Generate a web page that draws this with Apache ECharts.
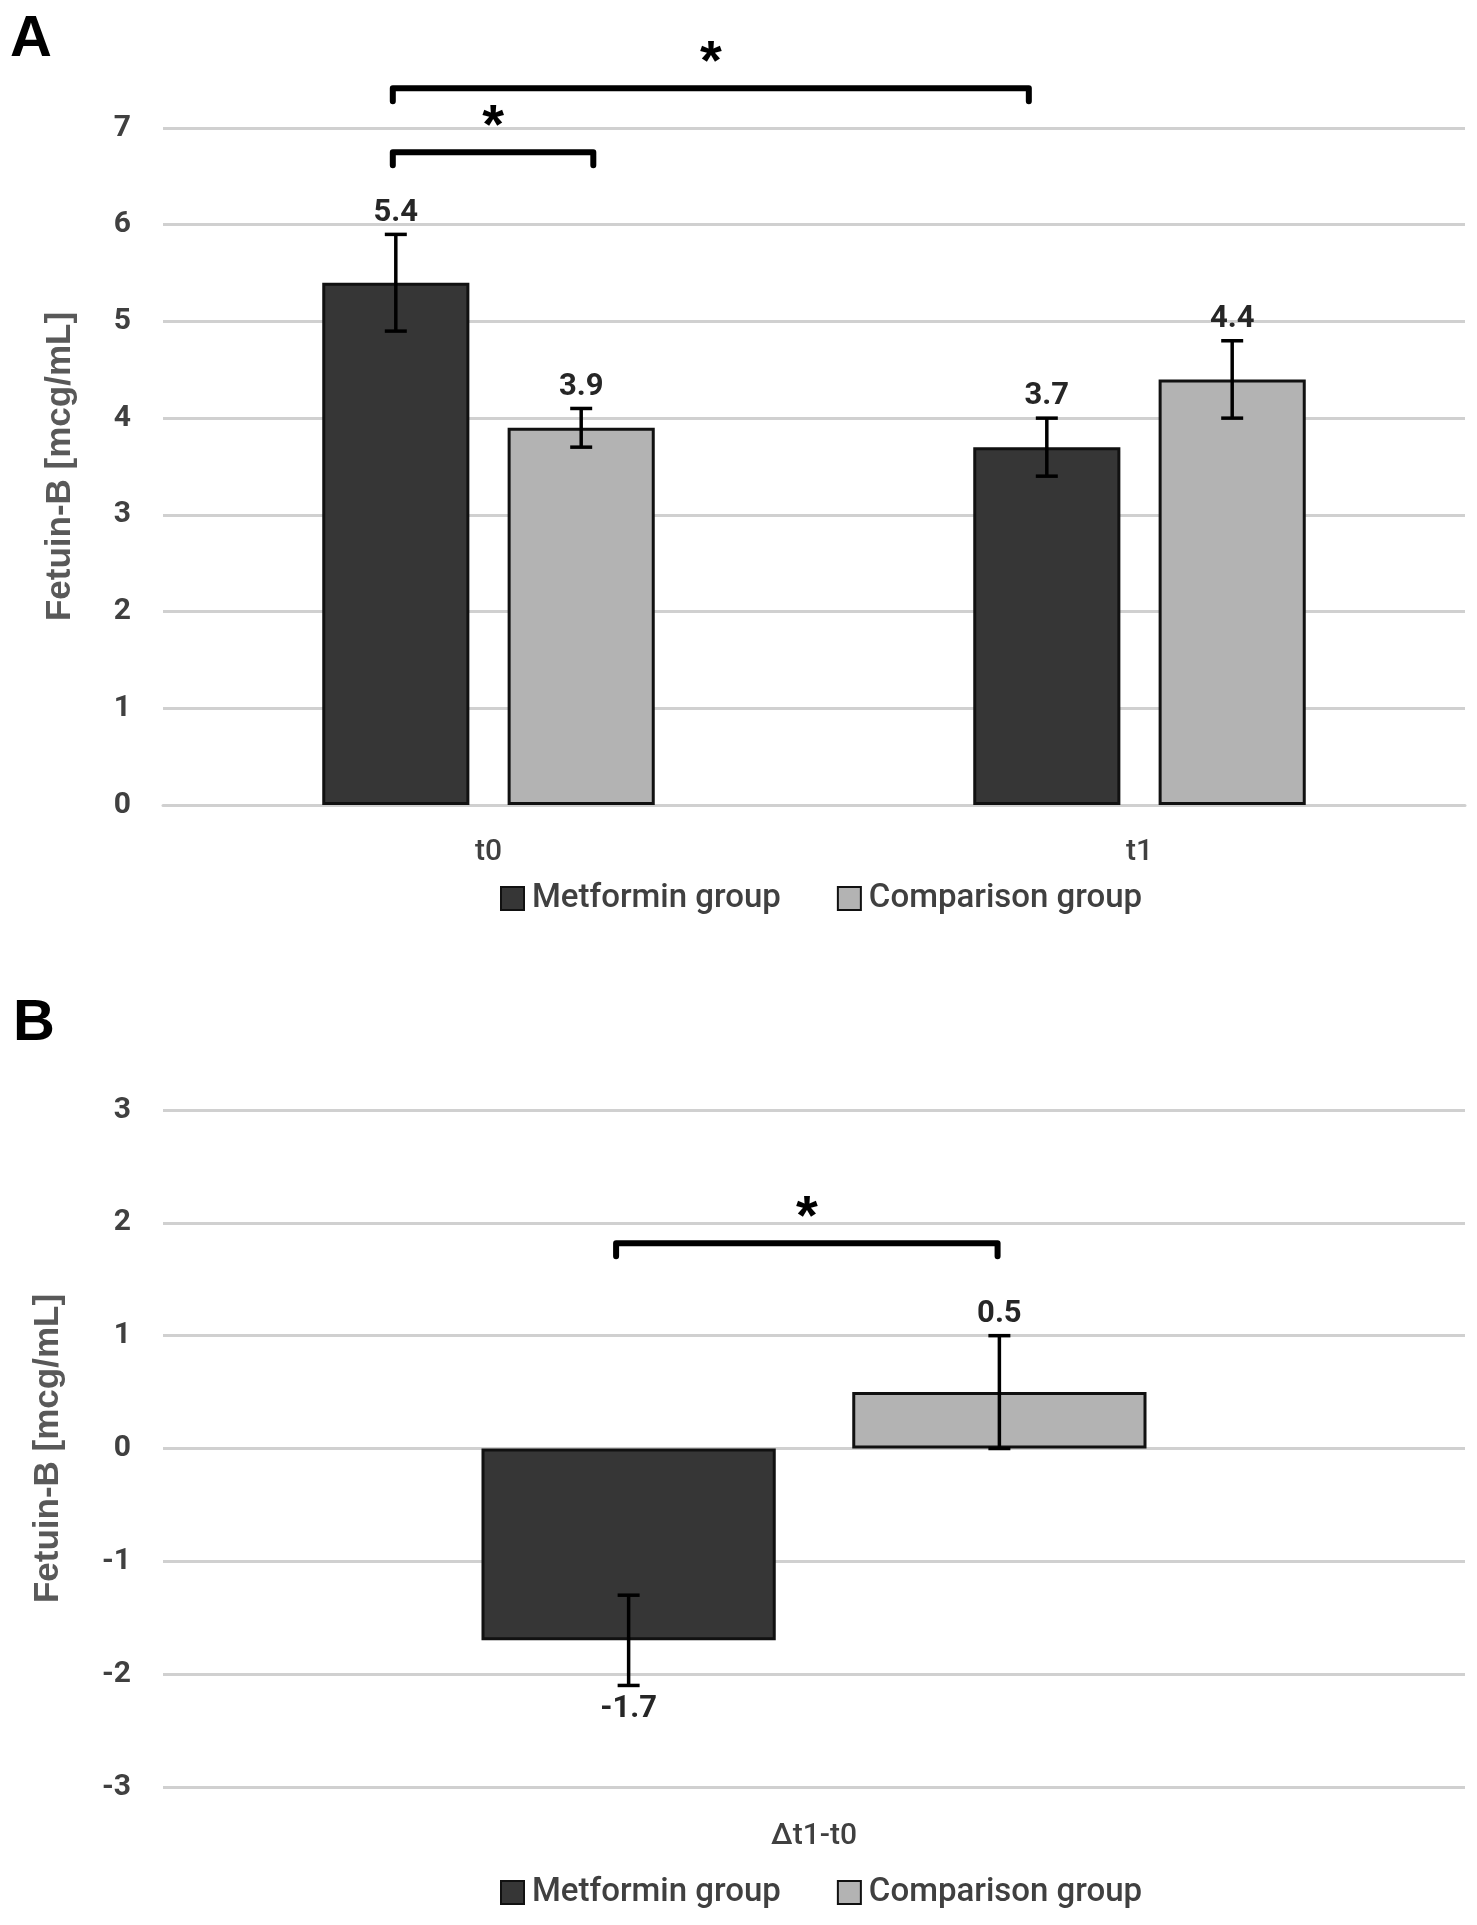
<!DOCTYPE html>
<html>
<head>
<meta charset="utf-8">
<title>Fetuin-B</title>
<script src="https://cdn.jsdelivr.net/npm/echarts@6/dist/echarts.min.js"></script>
<style>
  html, body { margin: 0; padding: 0; background: #fff; }
  #chart { width: 1477px; height: 1925px; }
</style>
</head>
<body>
<div id="chart"></div>
<script>
// Data
const groupNames = ['Metformin group', 'Comparison group'];

// Panel A
const catsA = ['t0', 't1'];
const metA = [5.4, 3.7];
const metErrA = [0.5, 0.3];
const cmpA = [3.9, 4.4];
const cmpErrA = [0.2, 0.4];
// significance brackets: [from, to] in category units (0 = t0 centre), level in mcg/mL
const bracketsA = [[-0.147, 0.161, 6.75], [-0.147, 0.830, 7.41]];

// Panel B
const catsB = ['\u0394t1-t0'];
const metB = [-1.7];
const metErrB = [0.4];
const cmpB = [0.5];
const cmpErrB = [0.5];
const bracketsB = [[-0.152, 0.141, 1.82]];

// Bar geometry (fraction of a category band)
const BAR_W = 0.226;
const BAR_GAP = 0.26;
const BAR_OFFSET = BAR_W * (1 + BAR_GAP) / 2;

const DARK = '#363636';
const LIGHT = '#b3b3b3';
const TEXT = '#404040';
const GRID = '#d0d0d0';
const LABEL_FONT = 'Roboto, "Liberation Sans", sans-serif';

const chart = echarts.init(document.getElementById('chart'));

function errorSeries(axis, means, errs, side) {
    return {
        type: 'custom',
        xAxisIndex: axis,
        yAxisIndex: axis,
        z: 5,
        silent: true,
        data: means.map(function (m, i) { return [i, m - errs[i], m + errs[i], m]; }),
        renderItem: function (params, api) {
            const catW = api.size([1, 0])[0];
            const lo = api.coord([api.value(0), api.value(1)]);
            const hi = api.coord([api.value(0), api.value(2)]);
            const x = lo[0] + side * BAR_OFFSET * catW;
            const mean = api.value(3);
            const up = mean >= 0;
            const cap = 11;
            const stroke = { stroke: '#000', lineWidth: 3.5 };
            return {
                type: 'group',
                children: [
                    { type: 'line', shape: { x1: x, y1: lo[1], x2: x, y2: hi[1] }, style: stroke },
                    { type: 'line', shape: { x1: x - cap, y1: lo[1], x2: x + cap, y2: lo[1] }, style: stroke },
                    { type: 'line', shape: { x1: x - cap, y1: hi[1], x2: x + cap, y2: hi[1] }, style: stroke },
                    {
                        type: 'text',
                        x: x,
                        y: up ? hi[1] - 6 : lo[1] + 8,
                        style: {
                            text: mean.toFixed(1),
                            fill: '#262626',
                            fontSize: 31,
                            fontWeight: 'bold',
                            fontFamily: LABEL_FONT,
                            align: 'center',
                            verticalAlign: up ? 'bottom' : 'top'
                        }
                    }
                ]
            };
        }
    };
}

function bracketSeries(axis, brackets) {
    return {
        type: 'custom',
        xAxisIndex: axis,
        yAxisIndex: axis,
        z: 6,
        silent: true,
        data: brackets.map(function (b) { return [0, b[2]]; }),
        renderItem: function (params, api) {
            const b = brackets[params.dataIndex];
            const catW = api.size([1, 0])[0];
            const p = api.coord([0, api.value(1)]);
            const x1 = p[0] + b[0] * catW;
            const x2 = p[0] + b[1] * catW;
            const y = p[1];
            const drop = 13;
            return {
                type: 'group',
                children: [
                    {
                        type: 'polyline',
                        shape: { points: [[x1, y + drop], [x1, y], [x2, y], [x2, y + drop]] },
                        style: { stroke: '#000', lineWidth: 6, fill: null, lineJoin: 'round', lineCap: 'round' }
                    },
                    {
                        type: 'text',
                        x: (x1 + x2) / 2,
                        y: y - 25,
                        style: {
                            text: '*',
                            fill: '#000',
                            fontSize: 56,
                            fontWeight: 'bold',
                            fontFamily: '"Liberation Sans", sans-serif',
                            align: 'center',
                            verticalAlign: 'middle'
                        }
                    }
                ]
            };
        }
    };
}

function barSeries(axis, name, data, color) {
    return {
        type: 'bar',
        name: name,
        xAxisIndex: axis,
        yAxisIndex: axis,
        data: data,
        barWidth: (BAR_W * 100) + '%',
        barGap: (BAR_GAP * 100) + '%',
        itemStyle: { color: color, borderColor: '#111', borderWidth: 3 }
    };
}

function valueAxis(grid, min, max, nameGap) {
    return {
        type: 'value',
        gridIndex: grid,
        min: min,
        max: max,
        interval: 1,
        name: 'Fetuin-B [mcg/mL]',
        nameLocation: 'middle',
        nameGap: nameGap,
        nameTextStyle: { color: '#595959', fontSize: 35, fontWeight: 'bold', fontFamily: '"Liberation Sans", sans-serif' },
        axisLine: { show: false },
        axisTick: { show: false },
        axisLabel: { color: TEXT, fontSize: 30, fontWeight: 'bold', fontFamily: LABEL_FONT, margin: 32 },
        splitLine: { lineStyle: { color: GRID, width: 3 } }
    };
}

function legendAt(top) {
    return {
        data: groupNames,
        top: top,
        left: 495,
        icon: 'rect',
        itemWidth: 23,
        itemHeight: 23,
        itemGap: 56,
        textStyle: { color: TEXT, fontSize: 33, fontWeight: 500, fontFamily: LABEL_FONT, padding: [0, 0, 0, 3] }
    };
}

const option = {
    animation: false,
    backgroundColor: '#fff',
    graphic: [
        { type: 'text', x: 31, y: 40, style: { text: 'A', fill: '#000', fontSize: 58, fontWeight: 'bold', fontFamily: '"Liberation Sans", sans-serif', align: 'center', verticalAlign: 'middle' } },
        { type: 'text', x: 34, y: 1024, style: { text: 'B', fill: '#000', fontSize: 58, fontWeight: 'bold', fontFamily: '"Liberation Sans", sans-serif', align: 'center', verticalAlign: 'middle' } }
    ],
    legend: [legendAt(877), legendAt(1871)],
    grid: [
        { left: 163, right: 12, top: 128, height: 677 },
        { left: 163, right: 12, top: 1110, height: 677 }
    ],
    xAxis: [
        {
            type: 'category',
            gridIndex: 0,
            data: catsA,
            axisLine: { lineStyle: { color: GRID, width: 3 } },
            axisTick: { length: 10, lineStyle: { color: GRID, width: 2 } },
            axisLabel: { color: TEXT, fontSize: 30, fontWeight: 500, fontFamily: LABEL_FONT, margin: 32 }
        },
        {
            type: 'category',
            gridIndex: 1,
            data: catsB,
            axisLine: { show: false, onZero: false },
            axisTick: { show: false },
            axisLabel: { color: TEXT, fontSize: 30, fontWeight: 500, fontFamily: LABEL_FONT, margin: 34 }
        }
    ],
    yAxis: [
        valueAxis(0, 0, 7, 85),
        valueAxis(1, -3, 3, 97)
    ],
    series: [
        barSeries(0, groupNames[0], metA, DARK),
        barSeries(0, groupNames[1], cmpA, LIGHT),
        errorSeries(0, metA, metErrA, -1),
        errorSeries(0, cmpA, cmpErrA, 1),
        bracketSeries(0, bracketsA),
        barSeries(1, groupNames[0], metB, DARK),
        barSeries(1, groupNames[1], cmpB, LIGHT),
        errorSeries(1, metB, metErrB, -1),
        errorSeries(1, cmpB, cmpErrB, 1),
        bracketSeries(1, bracketsB)
    ]
};

chart.setOption(option);
</script>
</body>
</html>
